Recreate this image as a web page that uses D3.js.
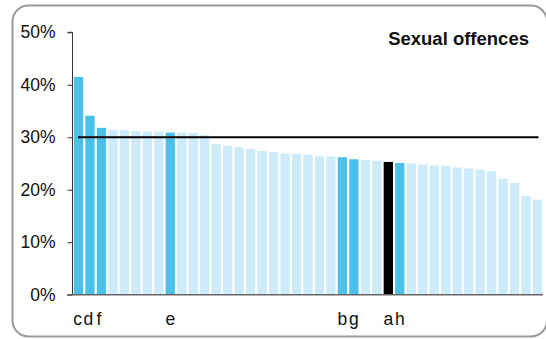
<!DOCTYPE html>
<html><head><meta charset="utf-8">
<script src="https://cdn.jsdelivr.net/npm/d3@7"></script>
<style>body{margin:0;background:#fff;}svg{display:block;font-family:"Liberation Sans",Arial,sans-serif;}</style>
</head><body>
<script>
const values = [41.5,34.1,31.8,31.4,31.4,31.2,31.1,31.1,30.9,30.9,30.8,30.4,28.7,28.4,28.1,27.8,27.4,27.2,26.9,26.8,26.7,26.4,26.35,26.2,25.8,25.65,25.5,25.3,25.1,25.0,24.8,24.6,24.6,24.25,24.05,23.85,23.55,22.15,21.3,18.8,18.1];
const labels = ["c","d","f","","","","","","e","","","","","","","","","","","","","","","b","g","","","a","h","","","","","","","","","","","",""];
const highlight = ["c","d","f","e","b","g","h"];
const black = ["a"];
const yTicks = [0,10,20,30,40,50];
const refValue = 30;
const title = "Sexual offences";

const W = 546, H = 339;
const svg = d3.select("body").append("svg").attr("width", W).attr("height", H);

svg.append("rect").attr("x",12.5).attr("y",5.5).attr("width",534.5).attr("height",331)
  .attr("rx",16).attr("fill","none").attr("stroke","#9a9a9a").attr("stroke-width",2);

const x = d3.scaleBand().domain(d3.range(values.length)).range([73.5, 542.5]).paddingInner(0.19).paddingOuter(0.03);
const y = d3.scaleLinear().domain([0,50]).range([294.7, 32.3]);

svg.append("g").selectAll("rect").data(values).join("rect")
  .attr("x",(d,i)=>x(i)).attr("width",x.bandwidth())
  .attr("y",d=>y(d)).attr("height",d=>y(0)-y(d))
  .attr("fill",(d,i)=> black.includes(labels[i]) ? "#000" : highlight.includes(labels[i]) ? "#4bc1ea" : "#cdebf8");

const yAxis = svg.append("g").attr("transform","translate(72.5,0)")
  .call(d3.axisLeft(y).tickValues(yTicks).tickFormat(d=>d+"%").tickSize(5).tickPadding(12));
yAxis.select(".domain").attr("stroke","#333").attr("d",`M-5,${y(50)}H0V${y(0)}`);
yAxis.selectAll(".tick line").attr("stroke","#333");
yAxis.selectAll(".tick text").attr("font-size",17.5).attr("fill","#111").attr("font-family","Liberation Sans, Arial, sans-serif");

svg.append("line").attr("x1",67).attr("x2",543).attr("y1",y(0)).attr("y2",y(0)).attr("stroke","#666").attr("stroke-width",1.5);

svg.append("line").attr("x1",78).attr("x2",538.5).attr("y1",y(refValue)).attr("y2",y(refValue)).attr("stroke","#000").attr("stroke-width",2);

svg.append("g").selectAll("text").data(labels).join("text")
  .attr("x",(d,i)=>x(i)+x.bandwidth()/2 - (i<3 ? i*0.8+0.8 : 0)).attr("y",324.5)
  .attr("text-anchor","middle").attr("font-size",17.5).attr("fill","#111").text(d=>d);

svg.append("text").attr("x",529).attr("y",45).attr("text-anchor","end")
  .attr("font-size",18.5).attr("font-weight","bold").attr("fill","#111").text(title);
</script>
</body></html>
